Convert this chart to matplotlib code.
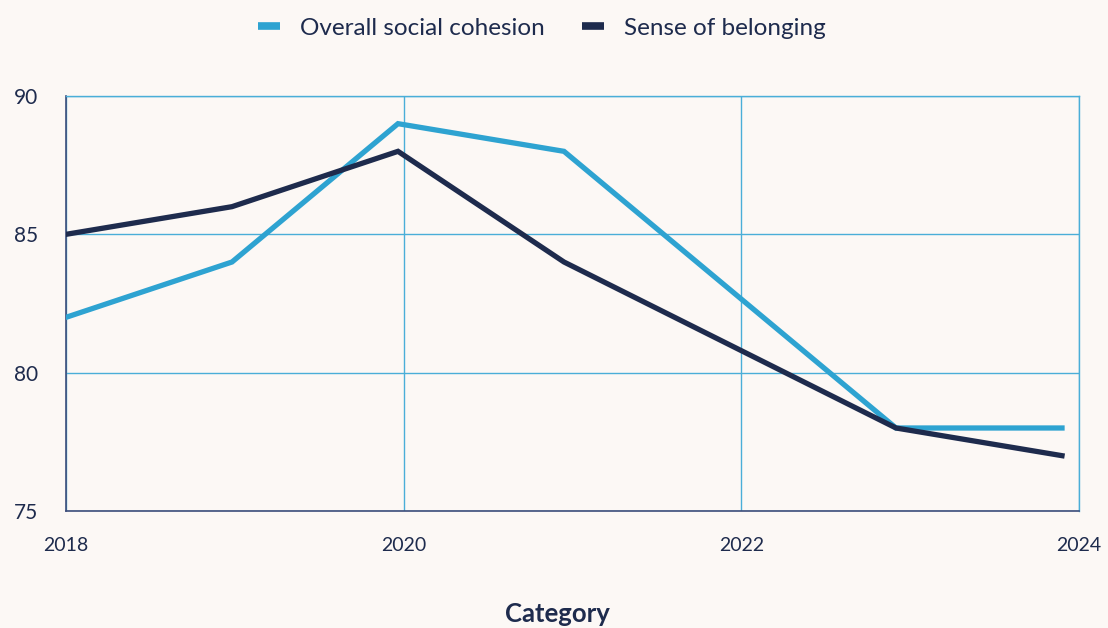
import matplotlib
matplotlib.use("Agg")
import matplotlib.pyplot as plt

years = [2018, 2019, 2020, 2021, 2023, 2024]
cohesion = [82, 84, 89, 88, 78, 78]
belonging = [85, 86, 88, 84, 78, 77]
tick_years = [2018, 2020, 2022, 2024]
y_ticks = [75, 80, 85, 90]

BG = "#fcf8f5"
C_COH = "#2ea3d1"
C_BEL = "#1e2b4d"
GRID = "#4aaed8"
TXT = "#1e2b4d"

plt.rcParams['font.family'] = ['Lato', 'DejaVu Sans']

fig = plt.figure(figsize=(11.08, 6.28), dpi=100, facecolor=BG)
ax = fig.add_axes([66/1108, 1-511/628, (1079-66)/1108, (511-96)/628])
ax.set_facecolor(BG)
ax.set_xlim(2018, 2024)
ax.set_ylim(75, 90)
ax.set_xticks(tick_years)
ax.set_yticks(y_ticks)
ax.grid(True, color=GRID, linewidth=1.0)
ax.tick_params(length=0, labelsize=14, labelcolor=TXT)
ax.tick_params(axis='x', pad=19)
ax.tick_params(axis='y', pad=20, labelsize=15)
for s in ['top', 'right']:
    ax.spines[s].set_color(GRID)
    ax.spines[s].set_linewidth(1.0)
for s in ['left', 'bottom']:
    ax.spines[s].set_color("#3d4d7a")
    ax.spines[s].set_linewidth(1.2)

fig.text(557/1108, 1-614/628, "Category", fontsize=18.5, fontweight='bold', color=TXT,
         ha='center', va='center')

# data axes overlay (data spacing slightly narrower than tick spacing)
axd = ax.twiny()
axd.set_xlim(2018, 2018 + 6 * 1013 / 996)
axd.set_ylim(75, 90)
axd.axis('off')
axd.plot(years, cohesion, color=C_COH, linewidth=3.8, label="Overall social cohesion",
         solid_joinstyle='miter', zorder=3)
axd.plot(years, belonging, color=C_BEL, linewidth=3.8, label="Sense of belonging",
         solid_joinstyle='miter', zorder=3)

leg = fig.legend(loc='center', bbox_to_anchor=(542/1108, 1-28/628), ncol=2, frameon=False,
                 fontsize=17.5, handlelength=0.9, handletextpad=0.82, columnspacing=1.56,
                 labelcolor=TXT)
for h in leg.legend_handles:
    h.set_linewidth(5.5)
    h.set_solid_capstyle('butt')

fig.savefig("out.png", dpi=100, facecolor=BG)
